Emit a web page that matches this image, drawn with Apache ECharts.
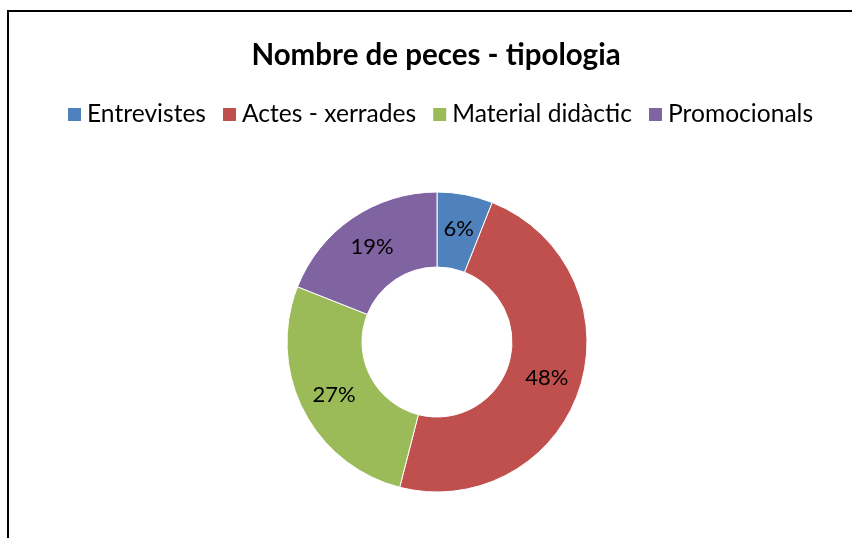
<!DOCTYPE html>
<html>
<head>
<meta charset="utf-8">
<script src="https://cdn.jsdelivr.net/npm/echarts@6/dist/echarts.min.js"></script>
<style>
  html, body { margin: 0; padding: 0; background: #fff; }
  #chart { width: 852px; height: 538px; }
</style>
</head>
<body>
<div id="chart"></div>
<script>
var categories = ['Entrevistes', 'Actes - xerrades', 'Material didàctic', 'Promocionals'];
var values = [6, 48, 27, 19];
var colors = ['#4F81BD', '#C0504D', '#9BBB59', '#8064A2'];

var chart = echarts.init(document.getElementById('chart'));

var pieData = categories.map(function (name, i) {
    return { name: name, value: values[i], itemStyle: { color: colors[i] } };
});

var option = {
    backgroundColor: '#fff',
    animation: false,
    title: {
        text: 'Nombre de peces - tipologia',
        left: 431,
        top: 35,
        textAlign: 'center',
        textStyle: {
            fontFamily: 'Lato',
            fontWeight: 'bold',
            fontSize: 29.5,
            color: '#000'
        }
    },
    legend: {
        data: categories,
        left: 61,
        top: 97,
        itemWidth: 15,
        itemHeight: 15,
        itemGap: 15,
        icon: 'rect',
        textStyle: {
            fontFamily: 'Lato',
            fontSize: 24.6,
            color: '#000'
        }
    },
    graphic: [{
        type: 'rect',
        shape: { x: 8, y: 11, width: 900, height: 600 },
        style: { fill: null, stroke: '#000', lineWidth: 2 },
        silent: true
    }],
    series: [{
        name: 'Nombre de peces',
        type: 'pie',
        center: [437, 342],
        radius: [75, 150],
        startAngle: 90,
        clockwise: true,
        percentPrecision: 0,
        itemStyle: { borderColor: '#fff', borderWidth: 1 },
        label: {
            show: true,
            position: 'inside',
            formatter: '{d}%',
            fontFamily: 'Lato',
            fontSize: 22,
            color: '#000'
        },
        labelLine: { show: false },
        data: pieData
    }]
};

chart.setOption(option);
</script>
</body>
</html>
